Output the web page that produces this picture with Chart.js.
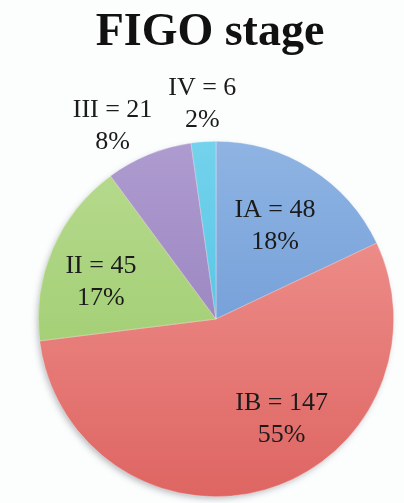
<!DOCTYPE html>
<html>
<head>
<meta charset="utf-8">
<title>FIGO stage</title>
<script src="https://cdn.jsdelivr.net/npm/chart.js@4/dist/chart.umd.min.js"></script>
<style>
    html, body { margin: 0; padding: 0; background: #fcfdfd; }
    #wrap { width: 404px; height: 503px; position: relative; }
</style>
</head>
<body>
<div id="wrap"><canvas id="pieCanvas"></canvas></div>
<script>
// data
var chartTitle = "FIGO stage";
var stages = ["IA", "IB", "II", "III", "IV"];
var patients = [48, 147, 45, 21, 6];

// slice colours, light (top) -> dark (bottom)
var topColors = ["#8fb4e3", "#f29b97", "#b7db8f", "#ae9bcf", "#74d2ec"];
var bottomColors = ["#5f8fd0", "#de6562", "#97c764", "#8d77b7", "#3dbce0"];

// where each label sits: angle shift (deg) from the slice middle, distance as part of radius
var labelShift = [0, -17, -5.5, -6, 0.4];
var labelRadius = [0.62, 0.675, 0.68, 1.23, 1.213];

var total = patients.reduce(function (a, b) { return a + b; }, 0);

function sliceGradient(context) {
    var chart = context.chart;
    var area = chart.chartArea;
    if (!area) return topColors[context.dataIndex];
    var g = chart.ctx.createLinearGradient(0, area.top, 0, area.bottom);
    g.addColorStop(0, topColors[context.dataIndex]);
    g.addColorStop(1, bottomColors[context.dataIndex]);
    return g;
}

// soft shadow under the pie
var shadowPlugin = {
    id: 'pieShadow',
    beforeDatasetsDraw: function (chart) {
        var arc = chart.getDatasetMeta(0).data[0];
        if (!arc) return;
        var ctx = chart.ctx;
        ctx.save();
        ctx.shadowColor = 'rgba(60,70,80,0.35)';
        ctx.shadowBlur = 6;
        ctx.shadowOffsetX = -2;
        ctx.shadowOffsetY = 3;
        ctx.fillStyle = '#d06060';
        ctx.beginPath();
        ctx.arc(arc.x, arc.y, arc.outerRadius - 1, 0, Math.PI * 2);
        ctx.fill();
        ctx.restore();
    }
};

// title drawn by hand, it sits a bit left of the pie centre
var titlePlugin = {
    id: 'figoTitle',
    afterDraw: function (chart) {
        var ctx = chart.ctx;
        ctx.save();
        ctx.font = 'bold 46px "Liberation Serif", serif';
        ctx.fillStyle = '#111111';
        ctx.textAlign = 'center';
        ctx.textBaseline = 'alphabetic';
        ctx.fillText(chartTitle, chart.width / 2 + 8, 45);
        ctx.restore();
    }
};

// "IA = 48" / "18%" labels
var labelPlugin = {
    id: 'stageLabels',
    afterDatasetsDraw: function (chart) {
        var ctx = chart.ctx;
        ctx.save();
        ctx.font = '26px "Liberation Serif", serif';
        ctx.fillStyle = '#1b1b1b';
        ctx.textAlign = 'center';
        ctx.textBaseline = 'middle';
        chart.getDatasetMeta(0).data.forEach(function (arc, i) {
            var mid = (arc.startAngle + arc.endAngle) / 2 + labelShift[i] * Math.PI / 180;
            var r = arc.outerRadius * labelRadius[i];
            var x = arc.x + Math.cos(mid) * r;
            var y = arc.y + Math.sin(mid) * r;
            var pct = Math.round(patients[i] / total * 100) + '%';
            ctx.fillText(stages[i] + ' = ' + patients[i], x, y - 16);
            ctx.fillText(pct, x, y + 16);
        });
        ctx.restore();
    }
};

var ctx = document.getElementById('pieCanvas').getContext('2d');
window.myPie = new Chart(ctx, {
    type: 'pie',
    data: {
        labels: stages,
        datasets: [{
            data: patients,
            backgroundColor: sliceGradient,
            borderWidth: 0.6,
            borderColor: 'rgba(255,255,255,0.5)'
        }]
    },
    options: {
        responsive: true,
        maintainAspectRatio: false,
        animation: false,
        layout: {
            padding: { left: 38, right: 10, top: 141, bottom: 6 }
        },
        plugins: {
            legend: { display: false },
            tooltip: { enabled: false },
            title: { display: false }
        }
    },
    plugins: [shadowPlugin, labelPlugin, titlePlugin]
});
</script>
</body>
</html>
